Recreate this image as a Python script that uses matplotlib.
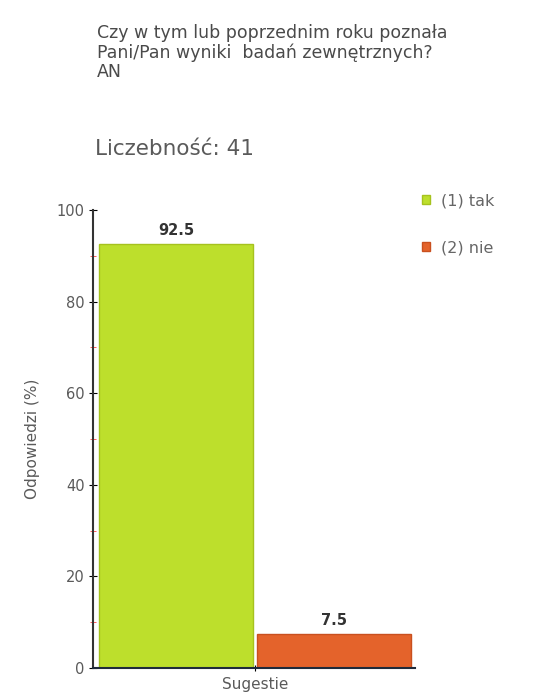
import matplotlib.pyplot as plt

question = "Czy w tym lub poprzednim roku poznała\nPani/Pan wyniki  badań zewnętrznych?\nAN"
count_label = "Liczebność: 41"
answers = ["(1) tak", "(2) nie"]
percents = [92.5, 7.5]
group_label = "Sugestie"
colors = ["#bddf2c", "#e4632b"]
edges = ["#a6c21e", "#c9501f"]

fig = plt.figure(figsize=(5.33, 6.98), dpi=100)
ax = fig.add_axes([0.1745, 0.043, 0.604, 0.656])

xs = range(len(percents))
for x, v, c, e, name in zip(xs, percents, colors, edges, answers):
    ax.bar(x, v, width=0.97, color=c, edgecolor=e, linewidth=1, label=name)
    ax.text(x, v + 1.3, f"{v}", ha="center", va="bottom", fontsize=10.5,
            fontweight="bold", color="#333333")

ax.set_xlim(-0.523, 1.51)
ax.set_ylim(0, 100)
ax.set_yticks([0, 20, 40, 60, 80, 100])
ax.set_yticks([10, 30, 50, 70, 90], minor=True)
ax.tick_params(axis="y", which="minor", length=4, color="#ff4040", direction="inout")
ax.tick_params(axis="y", which="major", length=6, direction="inout", labelsize=10.5,
               labelcolor="#5a5a5a", pad=3)
ax.set_xticks([0.5])
ax.set_xticklabels([group_label], fontsize=11, color="#5a5a5a")
ax.tick_params(axis="x", length=5, direction="inout", pad=4)
for s in ["top", "right"]:
    ax.spines[s].set_visible(False)
ax.spines["left"].set_linewidth(1.5)
ax.spines["left"].set_color("#333333")
ax.spines["bottom"].set_linewidth(1.5)
ax.spines["bottom"].set_color("#1f2a3a")
ax.set_ylabel("Odpowiedzi (%)", fontsize=11, color="#5a5a5a", labelpad=12)

fig.text(0.182, 0.966, question, fontsize=12.5, color="#4a4a4a", va="top",
         linespacing=1.1)
fig.text(0.178, 0.786, count_label, fontsize=15.5, color="#5a5a5a", va="center")

leg = fig.legend(loc="upper left", bbox_to_anchor=(0.78, 0.732), frameon=False,
                 fontsize=11.5, handlelength=0.5, handleheight=0.5,
                 labelspacing=2.0, handletextpad=0.7, borderaxespad=0)
for t in leg.get_texts():
    t.set_color("#666666")

fig.savefig("out.png", dpi=100)
